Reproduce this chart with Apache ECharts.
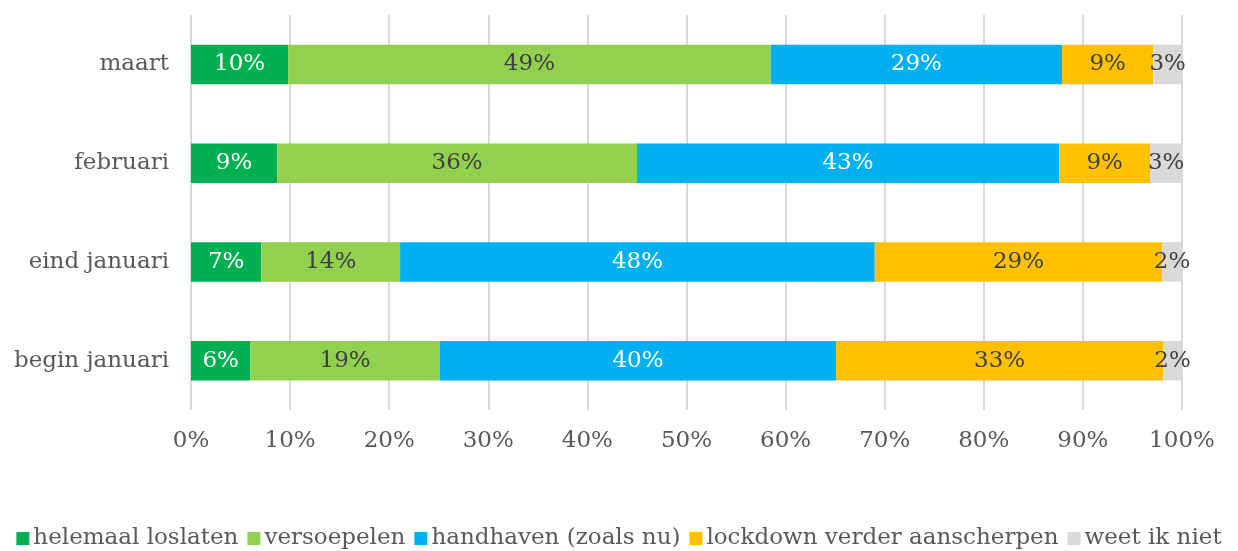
<!DOCTYPE html>
<html>
<head>
<meta charset="utf-8">
<script src="https://cdn.jsdelivr.net/npm/echarts@6/dist/echarts.min.js"></script>
<style>
  html, body { margin: 0; padding: 0; background: #fff; }
  #chart { width: 1238px; height: 551px; }
</style>
</head>
<body>
<div id="chart"></div>
<script>
// categories from bottom to top
const categories = ['begin januari', 'eind januari', 'februari', 'maart']
const seriesNames = ['helemaal loslaten', 'versoepelen', 'handhaven (zoals nu)', 'lockdown verder aanscherpen', 'weet ik niet']

const loslaten = [6, 7.1, 8.7, 9.8]
const versoepelen = [19.1, 14, 36.3, 48.7]
const handhaven = [40, 47.9, 42.6, 29.4]
const aanscherpen = [33, 29, 9.2, 9.2]
const weetNiet = [1.9, 2, 3.2, 2.9]

const xTicks = ['0%', '10%', '20%', '30%', '40%', '50%', '60%', '70%', '80%', '90%', '100%']

const colors = ['#00b050', '#92d050', '#00b0f0', '#ffc000', '#d9d9d9']
const labelColors = ['#ffffff', '#404040', '#ffffff', '#404040', '#404040']
const fontFamily = 'DejaVu Serif'

const iChart = echarts.init(document.getElementById('chart'))

const values = [loslaten, versoepelen, handhaven, aanscherpen, weetNiet]

const series = values.map((data, i) => ({
  name: seriesNames[i],
  type: 'bar',
  stack: 'total',
  data: data,
  barCategoryGap: '60%',
  itemStyle: { color: colors[i] },
  label: {
    show: true,
    position: 'inside',
    color: labelColors[i],
    fontFamily: fontFamily,
    fontSize: 23,
    formatter: p => Math.round(p.value) + '%'
  }
}))

const option = {
  animation: false,
  color: colors,
  grid: { left: 191, right: 56, top: 15, bottom: 141, containLabel: false },
  legend: {
    bottom: -4,
    left: 'center',
    itemWidth: 13,
    itemHeight: 13,
    itemGap: 9,
    icon: 'rect',
    textStyle: { color: '#595959', fontFamily: fontFamily, fontSize: 23, padding: [0, 0, 0, -1] },
    data: seriesNames
  },
  xAxis: {
    type: 'value',
    min: 0,
    max: 100,
    interval: 10,
    axisLine: { show: false },
    axisTick: { show: false },
    splitLine: { lineStyle: { color: '#d9d9d9', width: 2 } },
    axisLabel: {
      color: '#595959',
      fontFamily: fontFamily,
      fontSize: 23,
      margin: 20,
      formatter: v => xTicks[Math.round(v / 10)]
    }
  },
  yAxis: {
    type: 'category',
    data: categories,
    axisLine: { show: false },
    axisTick: { show: false },
    axisLabel: { color: '#595959', fontFamily: fontFamily, fontSize: 23, margin: 22 }
  },
  series: series
}

iChart.setOption(option)
</script>
</body>
</html>
